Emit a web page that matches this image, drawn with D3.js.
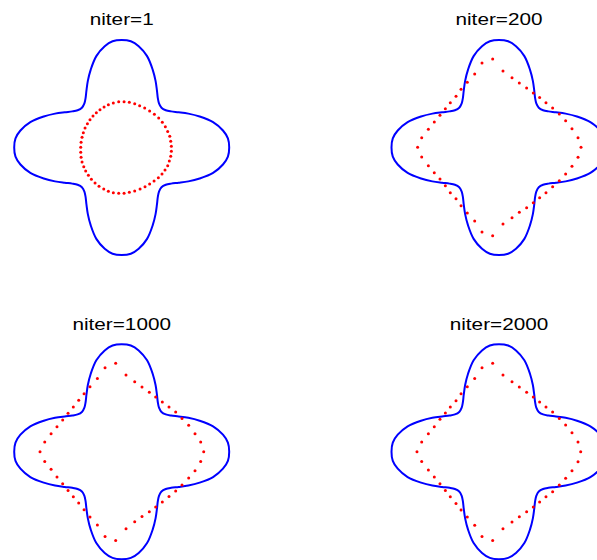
<!DOCTYPE html>
<html lang="en">
<head>
  <meta charset="UTF-8">
  <title>Snake iterations</title>
  <script src="https://d3js.org/d3.v7.min.js"></script>
  <style>
    body { margin: 0; background: #fff; }
    svg { display: block; }
  </style>
</head>
<body>
  <div id="chart"></div>

  <script>
    // Panel titles
    const titles = ["niter=1", "niter=200", "niter=1000", "niter=2000"];

    // Target contour (blue), unit: lobe tip = 1
    const contour = [
      [0, 1.0], [0.085, 0.988], [0.158, 0.942], [0.236, 0.85], [0.288, 0.725], [0.315, 0.62],
      [0.328, 0.53], [0.336, 0.46], [0.347, 0.41], [0.37, 0.37], [0.41, 0.347], [0.46, 0.336],
      [0.53, 0.328], [0.62, 0.315], [0.725, 0.288], [0.85, 0.236], [0.942, 0.158], [0.988, 0.085],
      [1.0, 0], [0.988, -0.085], [0.942, -0.158], [0.85, -0.236], [0.725, -0.288], [0.62, -0.315],
      [0.53, -0.328], [0.46, -0.336], [0.41, -0.347], [0.37, -0.37], [0.347, -0.41], [0.336, -0.46],
      [0.328, -0.53], [0.315, -0.62], [0.288, -0.725], [0.236, -0.85], [0.158, -0.942], [0.085, -0.988],
      [0, -1.0], [-0.085, -0.988], [-0.158, -0.942], [-0.236, -0.85], [-0.288, -0.725], [-0.315, -0.62],
      [-0.328, -0.53], [-0.336, -0.46], [-0.347, -0.41], [-0.37, -0.37], [-0.41, -0.347], [-0.46, -0.336],
      [-0.53, -0.328], [-0.62, -0.315], [-0.725, -0.288], [-0.85, -0.236], [-0.942, -0.158], [-0.988, -0.085],
      [-1.0, 0], [-0.988, 0.085], [-0.942, 0.158], [-0.85, 0.236], [-0.725, 0.288], [-0.62, 0.315],
      [-0.53, 0.328], [-0.46, 0.336], [-0.41, 0.347], [-0.37, 0.37], [-0.347, 0.41], [-0.336, 0.46],
      [-0.328, 0.53], [-0.315, 0.62], [-0.288, 0.725], [-0.236, 0.85], [-0.158, 0.942], [-0.085, 0.988]
    ];

    // Snake points (red) after each number of iterations
    const snake1 = [
      [-0.028, 0.426], [0.022, 0.426], [0.071, 0.420], [0.121, 0.408], [0.167, 0.389], [0.214, 0.367],
      [0.260, 0.340], [0.304, 0.309], [0.344, 0.274], [0.378, 0.234], [0.406, 0.194], [0.428, 0.150],
      [0.447, 0.104], [0.456, 0.057], [0.462, 0.011], [0.462, -0.036], [0.456, -0.082], [0.443, -0.126],
      [0.428, -0.169], [0.403, -0.209], [0.375, -0.247], [0.341, -0.281], [0.301, -0.312], [0.260, -0.340],
      [0.217, -0.364], [0.171, -0.386], [0.121, -0.405], [0.071, -0.417], [0.022, -0.426], [-0.028, -0.426],
      [-0.078, -0.420], [-0.124, -0.408], [-0.167, -0.386], [-0.211, -0.361], [-0.248, -0.330], [-0.282, -0.296],
      [-0.310, -0.259], [-0.335, -0.219], [-0.353, -0.178], [-0.369, -0.135], [-0.378, -0.091], [-0.381, -0.045],
      [-0.381, 0.002], [-0.378, 0.048], [-0.369, 0.095], [-0.357, 0.138], [-0.341, 0.181], [-0.319, 0.222],
      [-0.295, 0.259], [-0.267, 0.293], [-0.236, 0.324], [-0.202, 0.352], [-0.164, 0.377], [-0.124, 0.398],
      [-0.078, 0.414]
    ];

    const snake200 = [
      [-0.757, 0.002], [-0.719, 0.091], [-0.657, 0.169], [-0.602, 0.237], [-0.549, 0.299], [-0.499, 0.361],
      [-0.453, 0.417], [-0.400, 0.476], [-0.353, 0.541], [-0.295, 0.606], [-0.226, 0.684], [-0.158, 0.786],
      [-0.059, 0.823], [0.037, 0.712], [0.121, 0.650], [0.189, 0.600], [0.257, 0.553], [0.319, 0.507],
      [0.378, 0.464], [0.437, 0.417], [0.499, 0.367], [0.561, 0.312], [0.620, 0.250], [0.679, 0.175],
      [0.735, 0.091], [0.763, 0.002], [0.735, -0.091], [0.679, -0.175], [0.620, -0.247], [0.561, -0.309],
      [0.499, -0.364], [0.437, -0.420], [0.378, -0.467], [0.319, -0.513], [0.257, -0.560], [0.189, -0.603],
      [0.121, -0.653], [0.037, -0.712], [-0.059, -0.820], [-0.158, -0.786], [-0.226, -0.684], [-0.295, -0.609],
      [-0.353, -0.541], [-0.400, -0.476], [-0.453, -0.420], [-0.499, -0.355], [-0.549, -0.293], [-0.602, -0.234],
      [-0.657, -0.169], [-0.719, -0.088]
    ];

    const snake1000 = [
      [-0.760, 0], [-0.716, 0.090], [-0.657, 0.167], [-0.602, 0.233], [-0.549, 0.295], [-0.499, 0.357],
      [-0.450, 0.416], [-0.400, 0.478], [-0.350, 0.540], [-0.295, 0.605], [-0.226, 0.682], [-0.155, 0.781],
      [-0.056, 0.822], [0.040, 0.713], [0.121, 0.651], [0.189, 0.602], [0.257, 0.552], [0.316, 0.509],
      [0.378, 0.462], [0.440, 0.416], [0.502, 0.369], [0.561, 0.310], [0.623, 0.245], [0.682, 0.167],
      [0.735, 0.090], [0.763, 0], [0.735, -0.090], [0.682, -0.177], [0.623, -0.245], [0.561, -0.310],
      [0.502, -0.366], [0.440, -0.416], [0.378, -0.468], [0.316, -0.515], [0.257, -0.558], [0.189, -0.602],
      [0.121, -0.651], [0.040, -0.716], [-0.056, -0.825], [-0.155, -0.788], [-0.226, -0.682], [-0.295, -0.608],
      [-0.350, -0.540], [-0.400, -0.478], [-0.450, -0.419], [-0.499, -0.360], [-0.549, -0.298], [-0.602, -0.236],
      [-0.657, -0.164], [-0.716, -0.090]
    ];

    const snake2000 = [
      [-0.763, 0], [-0.719, 0.090], [-0.657, 0.167], [-0.602, 0.233], [-0.549, 0.301], [-0.499, 0.360],
      [-0.453, 0.416], [-0.400, 0.474], [-0.353, 0.540], [-0.295, 0.605], [-0.226, 0.682], [-0.158, 0.781],
      [-0.059, 0.822], [0.037, 0.713], [0.121, 0.651], [0.189, 0.602], [0.257, 0.552], [0.319, 0.509],
      [0.378, 0.462], [0.437, 0.416], [0.499, 0.369], [0.561, 0.310], [0.620, 0.248], [0.679, 0.177],
      [0.735, 0.090], [0.760, 0], [0.735, -0.093], [0.679, -0.177], [0.620, -0.248], [0.561, -0.310],
      [0.499, -0.372], [0.437, -0.419], [0.378, -0.468], [0.319, -0.515], [0.257, -0.558], [0.189, -0.605],
      [0.121, -0.654], [0.037, -0.716], [-0.059, -0.825], [-0.158, -0.788], [-0.226, -0.685], [-0.295, -0.608],
      [-0.353, -0.543], [-0.400, -0.481], [-0.453, -0.419], [-0.499, -0.360], [-0.549, -0.298], [-0.602, -0.236],
      [-0.657, -0.171], [-0.719, -0.090]
    ];

    const snakes = [snake1, snake200, snake1000, snake2000];

    const W = 597, H = 560;
    const half = 107.5;               // pixels from centre to lobe tip
    const centres = [[121.7, 147.5], [499, 147.5], [121.7, 451.7], [499, 451.7]];
    const titleY = [24.5, 24.5, 330, 330];

    const svg = d3.select("#chart")
      .append("svg")
      .attr("width", W)
      .attr("height", H);

    titles.forEach((t, i) => {
      const [cx, cy] = centres[i];
      const x = d3.scaleLinear().domain([-1, 1]).range([cx - half, cx + half]);
      const y = d3.scaleLinear().domain([-1, 1]).range([cy + half, cy - half]);

      const g = svg.append("g");

      const line = d3.line()
        .x(d => x(d[0]))
        .y(d => y(d[1]))
        .curve(d3.curveCatmullRomClosed.alpha(0.5));

      g.append("path")
        .datum(contour)
        .attr("d", line)
        .attr("fill", "none")
        .attr("stroke", "#0000ff")
        .attr("stroke-width", 2);

      g.selectAll("circle")
        .data(snakes[i])
        .enter().append("circle")
          .attr("cx", d => x(d[0]))
          .attr("cy", d => y(d[1]))
          .attr("r", 1.5)
          .attr("fill", "#ff0000");

      // title text is wide in the original, so stretch horizontally
      svg.append("text")
        .attr("transform", "translate(" + cx + "," + titleY[i] + ") scale(1.22,1)")
        .attr("text-anchor", "middle")
        .style("font-family", "'Liberation Sans', Arial, Helvetica, sans-serif")
        .style("font-size", "17px")
        .style("fill", "#000")
        .text(t);
    });
  </script>
</body>
</html>
